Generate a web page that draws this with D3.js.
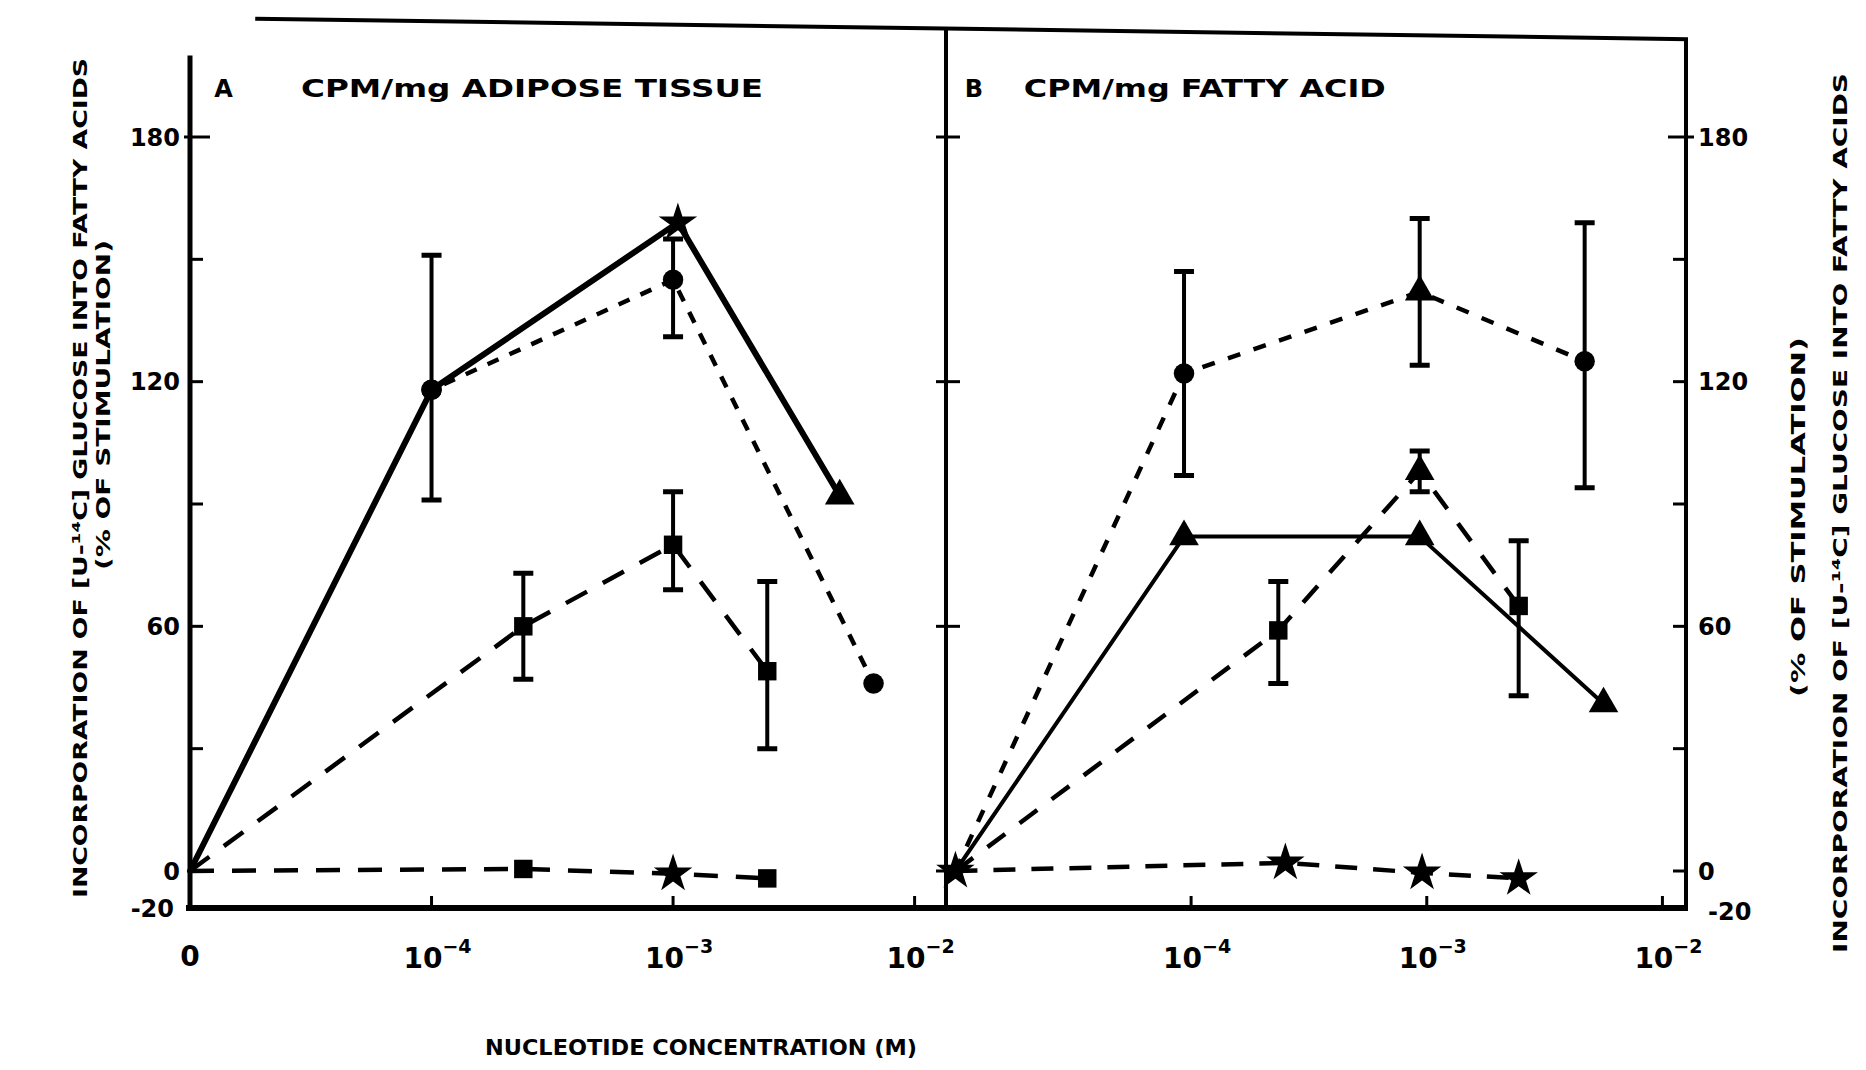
<!DOCTYPE html>
<html>
<head>
<meta charset="utf-8">
<title>Nucleotide concentration</title>
<script src="https://d3js.org/d3.v7.min.js"></script>
<style>
  body { margin: 0; background: #fff; }
  svg text { font-family: "DejaVu Sans", sans-serif; font-weight: bold; fill: #000; }
  .frame, .tick, .err, .series { stroke: #000; fill: none; }
</style>
</head>
<body>
<script>
// x values are positions on the log axis in decades:
// 0 = no nucleotide, 1 = 10^-4, 2 = 10^-3, 3 = 10^-2
let xTicks = [1, 2, 3];
let xTickLabels = ["\u22124", "\u22123", "\u22122"];
let yTicks = [180, 150, 120, 90, 60, 30, 0];
let yMajor = [180, 120, 60, 0];
let yLabels = [180, 120, 60, 0, -20];

// panel A - CPM/mg adipose tissue
let aSolidX = [0, 1, 2.02, 2.69];
let aSolidY = [0, 118, 159, 92];
let aSolidSym = [null, "circle", "star", "triangle"];

let aShortX = [0, 1, 2.0, 2.83];
let aShortY = [0, 118, 145, 46];
let aShortSym = [null, "circle", "circle", "circle"];

let aLongX = [0, 1.38, 2.0, 2.39];
let aLongY = [0, 60, 80, 49];
let aLongSym = [null, "square", "square", "square"];

let aFlatX = [0, 1.38, 2.0, 2.39];
let aFlatY = [0, 0.5, -1.5, -4];
let aFlatSym = [null, "square", "star", "square"];

let aErrX = [1, 2.0, 1.38, 2.0, 2.39];
let aErrLo = [91, 131, 47, 69, 30];
let aErrHi = [151, 155, 73, 93, 71];

// panel B - CPM/mg fatty acid
let bShortX = [0, 0.97, 1.97, 2.67];
let bShortY = [0, 122, 142, 125];
let bShortSym = [null, "circle", "triangle", "circle"];

let bSolidX = [0, 0.97, 1.97, 2.75];
let bSolidY = [0, 82, 82, 41];
let bSolidSym = [null, "triangle", "triangle", "triangle"];

let bLongX = [0, 1.37, 1.97, 2.39];
let bLongY = [0, 59, 98, 65];
let bLongSym = [null, "square", "triangle", "square"];

let bFlatX = [0, 1.40, 1.98, 2.39];
let bFlatY = [0, 2, -1, -4];
let bFlatSym = ["star", "star", "star", "star"];

let bErrX = [0.97, 1.97, 2.67, 1.37, 1.97, 2.39];
let bErrLo = [97, 124, 94, 46, 93, 43];
let bErrHi = [147, 160, 159, 71, 103, 81];

// svg and scales
let W = 1866, H = 1070;

let svg = d3.select("body")
    .append("svg")
    .attr("width", W)
    .attr("height", H);

let xA = d3.scaleLinear().domain([0, 3.13]).range([190, 946]);
let xB = d3.scaleLinear().domain([-0.04, 3.1]).range([946, 1686]);
let y = d3.scaleLinear().domain([-20, 0, 180]).range([908, 871, 137]);

let symbols = {
    circle: [d3.symbolCircle, 330],
    triangle: [d3.symbolTriangle, 380],
    square: [d3.symbolSquare, 340],
    star: [d3.symbolStar, 460]
};

// frame
let left = xA(0), mid = xA.range()[1], right = xB.range()[1];
let frame = [
    [[left, y(200)], [left, y(-20)], 5],
    [[left - 4, y(-20)], [right + 2, y(-20)], 6],
    [[mid, y(207)], [mid, y(-20)], 4],
    [[right, y(204)], [right, y(-20)], 4],
    [[xA(0.27), y(209)], [right + 2, y(204)], 4]
];
svg.selectAll("line.frame")
    .data(frame)
    .enter()
    .append("line")
    .attr("class", "frame")
    .attr("x1", d => d[0][0]).attr("y1", d => d[0][1])
    .attr("x2", d => d[1][0]).attr("y2", d => d[1][1])
    .attr("stroke-width", d => d[2]);

// y ticks: inward on the outer axes, crossing on the middle divider
svg.selectAll("line.lt")
    .data(yTicks)
    .enter()
    .append("line")
    .attr("class", "tick")
    .attr("x1", d => left - (d === 180 ? 6 : 0)).attr("x2", d => left + (d === 180 ? 20 : 13))
    .attr("y1", d => y(d)).attr("y2", d => y(d))
    .attr("stroke-width", 3);

svg.selectAll("line.mt")
    .data(yMajor)
    .enter()
    .append("line")
    .attr("class", "tick")
    .attr("x1", mid - 10).attr("x2", mid + 14)
    .attr("y1", d => y(d)).attr("y2", d => y(d))
    .attr("stroke-width", 3);

svg.selectAll("line.rt")
    .data(yTicks)
    .enter()
    .append("line")
    .attr("class", "tick")
    .attr("x1", d => right - (d === 180 ? 18 : 13)).attr("x2", d => right + (d === 180 ? 8 : 0))
    .attr("y1", d => y(d)).attr("y2", d => y(d))
    .attr("stroke-width", 3);

// x ticks, pointing up
[xA, xB].forEach(xs => {
    svg.append("g")
        .selectAll("line")
        .data(xTicks)
        .enter()
        .append("line")
        .attr("class", "tick")
        .attr("x1", d => xs(d)).attr("x2", d => xs(d))
        .attr("y1", y(-20)).attr("y2", y(-20) - 12)
        .attr("stroke-width", 3);
});

// y labels
svg.selectAll("text.yl")
    .data(yLabels)
    .enter()
    .append("text")
    .attr("x", d => d === -20 ? left - 16 : left - 10)
    .attr("y", d => y(d))
    .attr("dy", "0.36em")
    .attr("text-anchor", "end")
    .attr("font-size", 24)
    .text(d => d);

svg.selectAll("text.yr")
    .data(yLabels)
    .enter()
    .append("text")
    .attr("x", d => d === -20 ? right + 22 : right + 12)
    .attr("y", d => y(d))
    .attr("dy", d => d === -20 ? "0.5em" : "0.36em")
    .attr("font-size", 24)
    .text(d => d);

// x labels
svg.append("text")
    .attr("x", xA(0))
    .attr("y", y(-20) + 58)
    .attr("text-anchor", "middle")
    .attr("font-size", 28)
    .text("0");

[xA, xB].forEach(xs => {
    let t = svg.append("g")
        .selectAll("text")
        .data(xTicks)
        .enter()
        .append("text")
        .attr("x", d => xs(d) + 6)
        .attr("y", y(-20) + 60)
        .attr("text-anchor", "middle")
        .attr("font-size", 28);
    t.append("tspan").text("10");
    t.append("tspan")
        .attr("dy", -15)
        .attr("font-size", 19)
        .text((d, i) => xTickLabels[i]);
});

// axis titles
svg.append("text")
    .attr("x", 485)
    .attr("y", 1055)
    .attr("font-size", 21)
    .attr("textLength", 432)
    .attr("lengthAdjust", "spacingAndGlyphs")
    .text("NUCLEOTIDE CONCENTRATION (M)");

let yTitle = "INCORPORATION OF [U-\u00b9\u2074C] GLUCOSE INTO FATTY ACIDS";
let yTitle2 = "(% OF STIMULATION)";
let vTitles = [
    [80, 478, yTitle, 840],
    [103, 405, yTitle2, 330],
    [1798, 517, yTitle2, 360],
    [1840, 513, yTitle, 880]
];
svg.selectAll("text.vt")
    .data(vTitles)
    .enter()
    .append("text")
    .attr("transform", d => "translate(" + d[0] + "," + d[1] + ") rotate(-90)")
    .attr("text-anchor", "middle")
    .attr("dy", "0.36em")
    .attr("font-size", 20)
    .attr("textLength", d => d[3])
    .attr("lengthAdjust", "spacingAndGlyphs")
    .text(d => d[2]);

// panel titles
let panelTitles = [
    [xA(0.1), "A", xA(0.46), "CPM/mg ADIPOSE TISSUE", 462],
    [xB(0.04), "B", xB(0.29), "CPM/mg FATTY ACID", 362]
];
panelTitles.forEach(p => {
    svg.append("text")
        .attr("x", p[0]).attr("y", y(192))
        .attr("dy", "0.36em")
        .attr("font-size", 24)
        .text(p[1]);
    svg.append("text")
        .attr("x", p[2]).attr("y", y(192))
        .attr("dy", "0.36em")
        .attr("font-size", 24)
        .attr("textLength", p[4])
        .attr("lengthAdjust", "spacingAndGlyphs")
        .text(p[3]);
});

// data
let panels = [
    {
        xs: xA,
        series: [
            {x: aSolidX, y: aSolidY, sym: aSolidSym, dash: null, w: 6},
            {x: aShortX, y: aShortY, sym: aShortSym, dash: "12,12", w: 4.5},
            {x: aLongX, y: aLongY, sym: aLongSym, dash: "24,18", w: 4.5},
            {x: aFlatX, y: aFlatY, sym: aFlatSym, dash: "24,18", w: 4.5}
        ],
        err: {x: aErrX, lo: aErrLo, hi: aErrHi}
    },
    {
        xs: xB,
        series: [
            {x: bShortX, y: bShortY, sym: bShortSym, dash: "13,14", w: 4.5},
            {x: bSolidX, y: bSolidY, sym: bSolidSym, dash: null, w: 4},
            {x: bLongX, y: bLongY, sym: bLongSym, dash: "22,18", w: 4.5},
            {x: bFlatX, y: bFlatY, sym: bFlatSym, dash: "22,16", w: 4.5}
        ],
        err: {x: bErrX, lo: bErrLo, hi: bErrHi}
    }
];

panels.forEach(p => {
    let xs = p.xs;
    let g = svg.append("g");

    let line = d3.line()
        .x(d => xs(d[0]))
        .y(d => y(d[1]));

    // error bars
    let errs = p.err.x.map((v, i) => [v, p.err.lo[i], p.err.hi[i]]);
    g.selectAll("line.err")
        .data(errs)
        .enter()
        .append("line")
        .attr("class", "err")
        .attr("x1", d => xs(d[0])).attr("x2", d => xs(d[0]))
        .attr("y1", d => y(d[1])).attr("y2", d => y(d[2]))
        .attr("stroke-width", 4);
    g.selectAll("path.cap")
        .data(errs)
        .enter()
        .append("path")
        .attr("class", "err")
        .attr("d", d => "M" + (xs(d[0]) - 10) + "," + y(d[1]) + "h20" +
                        "M" + (xs(d[0]) - 10) + "," + y(d[2]) + "h20")
        .attr("stroke-width", 5);

    p.series.forEach(s => {
        let pts = s.x.map((v, i) => [v, s.y[i], s.sym[i]]);
        g.append("path")
            .datum(pts)
            .attr("class", "series")
            .attr("d", line)
            .attr("stroke-width", s.w)
            .attr("stroke-linecap", s.dash ? "butt" : "round")
            .attr("stroke-linejoin", "round")
            .attr("stroke-dasharray", s.dash);

        g.selectAll(null)
            .data(pts.filter(d => d[2]))
            .enter()
            .append("path")
            .attr("transform", d => "translate(" + xs(d[0]) + "," + y(d[1]) + ")")
            .attr("d", d => d3.symbol().type(symbols[d[2]][0]).size(symbols[d[2]][1])())
            .attr("fill", "#000");
    });
});
</script>
</body>
</html>
